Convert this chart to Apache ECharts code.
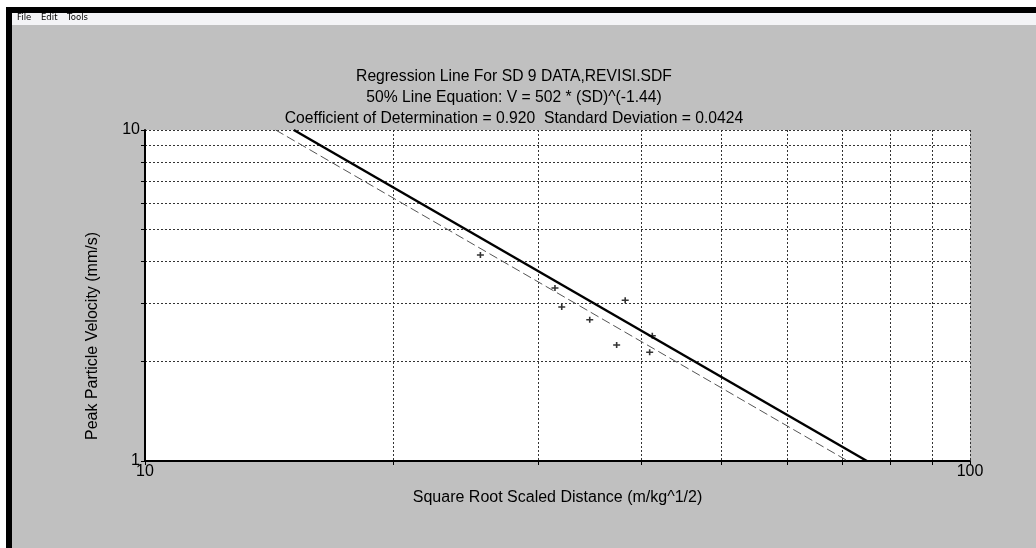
<!DOCTYPE html>
<html>
<head>
<meta charset="utf-8">
<title>Regression Line For SD 9 DATA</title>
<script src="https://cdn.jsdelivr.net/npm/echarts@6/dist/echarts.min.js"></script>
<style>
  html, body { margin: 0; padding: 0; background: #c0c0c0; }
  #chart { width: 1036px; height: 548px; }
</style>
</head>
<body>
<div id="chart"></div>
<script>
// measured points: scaled distance vs peak particle velocity
const sdValues = [25.5, 31.4, 32.0, 34.6, 38.2, 37.3, 41.2, 40.9];
const ppvValues = [4.19, 3.33, 2.92, 2.67, 3.06, 2.24, 2.39, 2.13];

// 50% regression line (solid) and lower line (dashed), read at V = 10 and V = 1
const fitSD = [15.15, 75.0];
const fitV = [10, 1];
const lowSD = [14.4, 71.1];
const lowV = [10, 1];

// tick values
const xTicks = [10, 20, 30, 40, 50, 60, 70, 80, 90, 100];
const yTicks = [1, 2, 3, 4, 5, 6, 7, 8, 9, 10];
const xLabels = [10, 100];
const yLabels = [1, 10];

const titleLines = [
  "Regression Line For SD 9 DATA,REVISI.SDF",
  "50% Line Equation: V = 502 * (SD)^(-1.44)",
  "Coefficient of Determination = 0.920  Standard Deviation = 0.0424",
];
const menuItems = ["File", "Edit", "Tools"];
const menuX = [17, 41, 67];

const font = "Liberation Sans, Arial, sans-serif";

const points = sdValues.map((x, i) => [x, ppvValues[i]]);
const fitLine = fitSD.map((x, i) => [x, fitV[i]]);
const lowLine = lowSD.map((x, i) => [x, lowV[i]]);

const gridStyle = { color: "#333", width: 1, type: [2, 2] };

const chart = echarts.init(document.getElementById("chart"));
chart.setOption({
  backgroundColor: "#c0c0c0",
  animation: false,
  title: {
    text: titleLines.join("\n"),
    left: 509,
    top: 61,
    textAlign: "center",
    textStyle: {
      fontFamily: font,
      fontSize: 15.7,
      fontWeight: "normal",
      color: "#000",
      lineHeight: 21,
    },
  },
  graphic: [
    // window chrome
    { type: "rect", shape: { x: 0, y: 0, width: 1036, height: 7 }, style: { fill: "#fff" } },
    { type: "rect", shape: { x: 0, y: 0, width: 6, height: 548 }, style: { fill: "#fff" } },
    { type: "rect", shape: { x: 6, y: 7, width: 1030, height: 6 }, style: { fill: "#000" } },
    { type: "rect", shape: { x: 6, y: 7, width: 6, height: 541 }, style: { fill: "#000" } },
    { type: "rect", shape: { x: 12, y: 13, width: 1024, height: 12 }, style: { fill: "#f4f4f6" } },
    ...menuItems.map((m, i) => ({
      type: "text",
      x: menuX[i],
      y: 18,
      style: {
        text: m,
        fontFamily: "DejaVu Sans, sans-serif",
        fontSize: 8.5,
        fill: "#000",
        textVerticalAlign: "middle",
      },
    })),
    // y axis title
    {
      type: "text",
      x: 93,
      y: 336,
      rotation: Math.PI / 2,
      style: {
        text: "Peak Particle Velocity (mm/s)",
        fontFamily: font,
        fontSize: 16,
        fill: "#000",
        textAlign: "center",
        textVerticalAlign: "middle",
      },
    },
  ],
  grid: {
    left: 145,
    right: 66,
    top: 130,
    bottom: 87,
    show: true,
    backgroundColor: "#fff",
    borderWidth: 0,
  },
  xAxis: {
    type: "log",
    logBase: 10,
    min: 10,
    max: 100,
    name: "Square Root Scaled Distance (m/kg^1/2)",
    nameLocation: "middle",
    nameGap: 29,
    nameTextStyle: { fontFamily: font, fontSize: 16, color: "#000" },
    axisLine: { lineStyle: { color: "#000", width: 2 } },
    axisTick: { show: true, length: 4, customValues: xTicks, lineStyle: { color: "#000" } },
    axisLabel: {
      customValues: xLabels,
      margin: 3,
      fontFamily: font,
      fontSize: 16,
      color: "#000",
    },
    splitLine: { show: true, lineStyle: gridStyle },
  },
  yAxis: {
    type: "log",
    logBase: 10,
    min: 1,
    max: 10,
    axisLine: { lineStyle: { color: "#000", width: 2 } },
    axisTick: { show: true, length: 4, customValues: yTicks, lineStyle: { color: "#000" } },
    axisLabel: {
      customValues: yLabels,
      margin: 5,
      fontFamily: font,
      fontSize: 16,
      color: "#000",
    },
    splitLine: { show: true, lineStyle: gridStyle },
  },
  series: [
    {
      type: "line",
      data: lowLine,
      symbol: "none",
      lineStyle: { color: "#555", width: 1, type: [9, 4] },
      z: 3,
    },
    {
      type: "line",
      data: fitLine,
      symbol: "none",
      lineStyle: { color: "#000", width: 2.5 },
      z: 4,
    },
    {
      type: "scatter",
      data: points,
      symbol: "path://M0,2.2H7V3.8H0Z M2.7,0H4.3V6H2.7Z",
      symbolSize: [7, 6],
      itemStyle: { color: "#000" },
      z: 5,
    },
  ],
});
</script>
</body>
</html>
